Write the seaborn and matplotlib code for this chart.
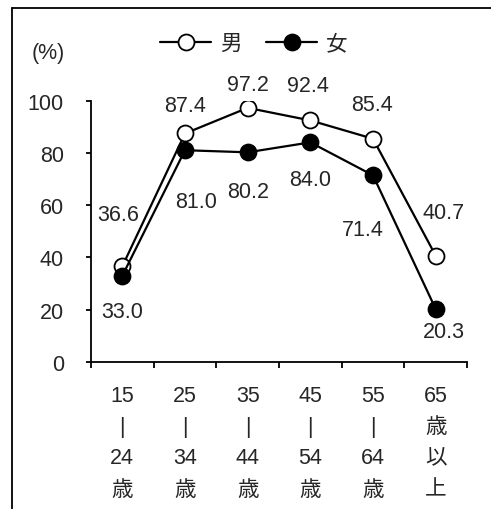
import seaborn as sns
import matplotlib.pyplot as plt
import pandas as pd
from matplotlib.lines import Line2D
from matplotlib.ticker import FixedLocator

# data
ages = ['15\n|\n24\n歳', '25\n|\n34\n歳', '35\n|\n44\n歳',
        '45\n|\n54\n歳', '55\n|\n64\n歳', '65\n歳\n以\n上']
male = [36.6, 87.4, 97.2, 92.4, 85.4, 40.7]
female = [33.0, 81.0, 80.2, 84.0, 71.4, 20.3]

# label offsets in pixels (layout only)
male_off = [(-4, 52), (0, 28), (0, 23), (-2, 35), (-1, 34), (8, 43)]
female_off = [(0, -36), (11, -51), (0, -39), (0, -37), (-10, -54), (8, -23)]

df = pd.DataFrame({'age': ages, 'male': male, 'female': female})

FS = 15.5

sns.set_style('white')
plt.rcParams['font.family'] = ['Liberation Sans', 'Noto Sans CJK JP', 'DejaVu Sans']
plt.rcParams['font.size'] = FS

fig = plt.figure(figsize=(4.91, 5.10), dpi=100)
ax = fig.add_axes([0.1853, 0.2882, 0.7658, 0.5127])

sns.lineplot(data=df, x='age', y='male', ax=ax, color='black', lw=1.6,
             marker='o', markersize=11.5, markerfacecolor='white',
             markeredgecolor='black', markeredgewidth=1.3, sort=False, label='男')
sns.lineplot(data=df, x='age', y='female', ax=ax, color='black', lw=1.6,
             marker='o', markersize=11.5, markerfacecolor='black',
             markeredgecolor='black', markeredgewidth=1.3, sort=False, label='女')

for i, v in enumerate(male):
    ax.annotate(f'{v:.1f}', (i, v), xytext=male_off[i], textcoords='offset pixels',
                ha='center', va='center', fontsize=FS)
for i, v in enumerate(female):
    ax.annotate(f'{v:.1f}', (i, v), xytext=female_off[i], textcoords='offset pixels',
                ha='center', va='center', fontsize=FS)

ax.set_xlim(-0.5, 5.5)
ax.set_ylim(0, 100)
ax.set_yticks([0, 20, 40, 60, 80, 100])
ax.set_xticks(range(len(ages)))
ax.set_xticklabels(ages, linespacing=1.64)
ax.xaxis.set_minor_locator(FixedLocator([i - 0.5 for i in range(len(ages) + 1)]))
ax.tick_params(axis='x', which='major', bottom=True, length=0, pad=16.5, labelsize=FS)
ax.tick_params(axis='x', which='minor', bottom=True, length=4.5, width=1.3,
               color='black', direction='out')
ax.tick_params(axis='y', left=True, length=3.6, width=1.3, color='black',
               direction='out', pad=16, labelsize=FS)
ax.set_xlabel('')
ax.set_ylabel('')

for s in ['top', 'right']:
    ax.spines[s].set_visible(False)
for s in ['left', 'bottom']:
    ax.spines[s].set_color('black')
    ax.spines[s].set_linewidth(1.3)

ax.legend(loc='center', bbox_to_anchor=(0.517, 0.912), bbox_transform=fig.transFigure,
          ncol=2, frameon=False, handlelength=2.4, handletextpad=0.42,
          columnspacing=1.1, fontsize=FS)

fig.text(0.0978, 0.896, '(%)', ha='center', va='center', fontsize=FS)

# partial frame around the figure (left and top edges)
fig.add_artist(Line2D([12 / 491, 12 / 491], [0, 1 - 9 / 510], color='black', lw=1.3,
                      transform=fig.transFigure))
fig.add_artist(Line2D([12 / 491, 1], [1 - 9 / 510, 1 - 9 / 510], color='black', lw=1.3,
                      transform=fig.transFigure))

fig.savefig('out.png', dpi=100)
